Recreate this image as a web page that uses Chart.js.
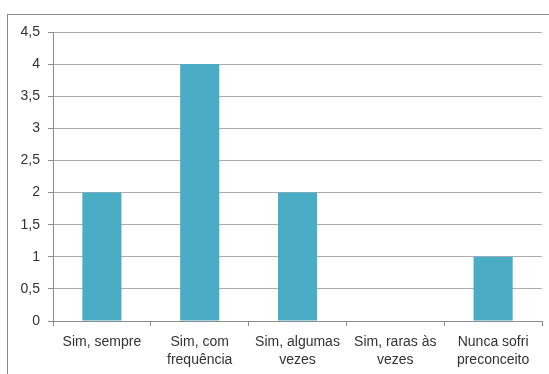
<!DOCTYPE html>
<html>
<head>
<meta charset="utf-8">
<script src="https://cdn.jsdelivr.net/npm/chart.js@4/dist/chart.umd.min.js"></script>
<style>
  html, body { margin: 0; padding: 0; background: #fff; overflow: hidden; }
  #wrap { width: 549px; height: 374px; position: relative; }
</style>
</head>
<body>
<div id="wrap"><canvas id="c" width="549" height="374"></canvas></div>
<script>
const categories = [
  ["Sim, sempre"],
  ["Sim, com", "frequência"],
  ["Sim, algumas", "vezes"],
  ["Sim, raras às", "vezes"],
  ["Nunca sofri", "preconceito"]
];
const values = [2, 4, 2, 0, 1];
const yTicks = { min: 0, max: 4.5, step: 0.5 };

const textColor = '#333333';
const gridColor = '#adadad';
const axisColor = '#8c8c8c';
const fontFamily = 'Liberation Sans';

// outer chart frame (extends past the right and bottom edges)
const framePlugin = {
  id: 'frame',
  beforeDraw(chart) {
    const ctx = chart.ctx;
    ctx.save();
    ctx.strokeStyle = '#8a8a8a';
    ctx.lineWidth = 1;
    ctx.strokeRect(7.5, 14.5, 600, 400);
    ctx.restore();
  }
};

new Chart(document.getElementById('c'), {
  type: 'bar',
  data: {
    labels: categories,
    datasets: [{
      data: values,
      backgroundColor: '#4BACC6',
      borderWidth: 0,
      categoryPercentage: 1,
      barPercentage: 0.4
    }]
  },
  options: {
    responsive: false,
    animation: false,
    devicePixelRatio: 1,
    layout: { padding: { top: 32, right: 7, left: 0, bottom: 0 } },
    plugins: { legend: { display: false }, tooltip: { enabled: false } },
    scales: {
      x: {
        afterFit(scale) { scale.height = 53; },
        grid: {
          drawOnChartArea: false,
          drawTicks: true,
          tickLength: 5,
          color: axisColor,
          offset: true
        },
        border: { color: axisColor, width: 1 },
        ticks: {
          color: textColor,
          padding: 7,
          maxRotation: 0,
          autoSkip: false,
          font: { family: fontFamily, size: 14, lineHeight: 1.3 }
        }
      },
      y: {
        min: yTicks.min,
        max: yTicks.max,
        afterFit(scale) { scale.width = 53; },
        grid: {
          color: gridColor,
          tickLength: 5,
          tickColor: axisColor
        },
        border: { color: axisColor, width: 1 },
        ticks: {
          stepSize: yTicks.step,
          color: textColor,
          padding: 8,
          font: { family: fontFamily, size: 14 },
          callback: v => String(v).replace('.', ',')
        }
      }
    }
  },
  plugins: [framePlugin]
});
</script>
</body>
</html>
